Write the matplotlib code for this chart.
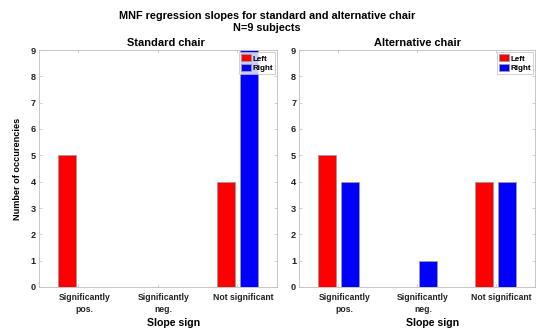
import matplotlib
matplotlib.use("Agg")
import matplotlib.pyplot as plt
import matplotlib.transforms as mtransforms
import numpy as np

plt.rcParams['font.family'] = ['Liberation Sans', 'DejaVu Sans']
plt.rcParams['font.weight'] = 'bold'

categories = ["Significantly\npos.", "Significantly\nneg.", "Not significant"]
series_names = ["Left", "Right"]
standard_left = [5, 0, 4]
standard_right = [0, 0, 9]
alternative_left = [5, 0, 4]
alternative_right = [4, 1, 4]

main_title = "MNF regression slopes for standard and alternative chair\nN=9 subjects"
panel_titles = ["Standard chair", "Alternative chair"]
x_label = "Slope sign"
y_label = "Number of occurencies"

colors = ["#ff0000", "#0000ff"]
box_color = "#bdbdbd"

W, H = 543, 333
fig = plt.figure(figsize=(W / 100, H / 100), dpi=100)
fig.patch.set_facecolor("white")

ax_left = fig.add_axes([38.5 / W, (H - 287) / H, 238.5 / W, 237 / H])
ax_right = fig.add_axes([299 / W, (H - 287) / H, 236 / W, 237 / H])

group_w = 2 / 3.5
bar_slot = group_w / 2
bar_w = 0.8 * bar_slot
x = np.arange(1, len(categories) + 1)

panels = [
    (ax_left, standard_left, standard_right, panel_titles[0], 0.535),
    (ax_right, alternative_left, alternative_right, panel_titles[1], 0.5),
]

for ax, left_vals, right_vals, title, tx in panels:
    ax.bar(x - bar_slot / 2, left_vals, bar_w, color=colors[0],
           edgecolor="#9a9a9a", linewidth=0.6, label=series_names[0])
    ax.bar(x + bar_slot / 2, right_vals, bar_w, color=colors[1],
           edgecolor="#9a9a9a", linewidth=0.6, label=series_names[1])
    ax.set_xlim(0.5, 3.5)
    ax.set_ylim(0, 9)
    ax.set_yticks(range(0, 10))
    ax.set_xticks(x)
    ax.set_xticklabels(categories, fontsize=6.2, fontweight="bold")
    ax.tick_params(axis="both", direction="in", top=True, right=True,
                   length=2.5, width=0.5, color=box_color, pad=2,
                   labelsize=6.6, labelcolor="#222222")
    ax.tick_params(axis="x", pad=4, labelsize=6.2)
    offset = mtransforms.ScaledTranslation(6 / 100, 0, fig.dpi_scale_trans)
    for lbl in ax.get_xticklabels():
        lbl.set_transform(lbl.get_transform() + offset)
        lbl.set_linespacing(1.5)
    for sp in ax.spines.values():
        sp.set_color(box_color)
        sp.set_linewidth(0.6)
    ax.set_title(title, fontsize=7.9, fontweight="bold", x=tx, pad=3)
    ax.set_xlabel(x_label, fontsize=7.6, fontweight="bold", labelpad=2)
    ax.xaxis.set_label_coords(0.565, -0.13)
    leg = ax.legend(loc="upper right", fontsize=5.8, frameon=True, fancybox=False,
                    handlelength=1.2, handleheight=1.05, handletextpad=0.2,
                    borderpad=0.25, labelspacing=0.15, borderaxespad=0.25)
    leg.get_frame().set_edgecolor(box_color)
    leg.get_frame().set_linewidth(0.6)
    for t in leg.get_texts():
        t.set_fontweight("bold")
    leg.set_zorder(5)

ax_left.set_ylabel(y_label, fontsize=6.6, fontweight="bold", labelpad=6)

fig.text(266.7 / W, 1 - 22 / H, main_title, ha="center", va="center",
         fontsize=7.8, fontweight="bold", linespacing=1.2)

fig.savefig("out.png", dpi=100, facecolor="white")
